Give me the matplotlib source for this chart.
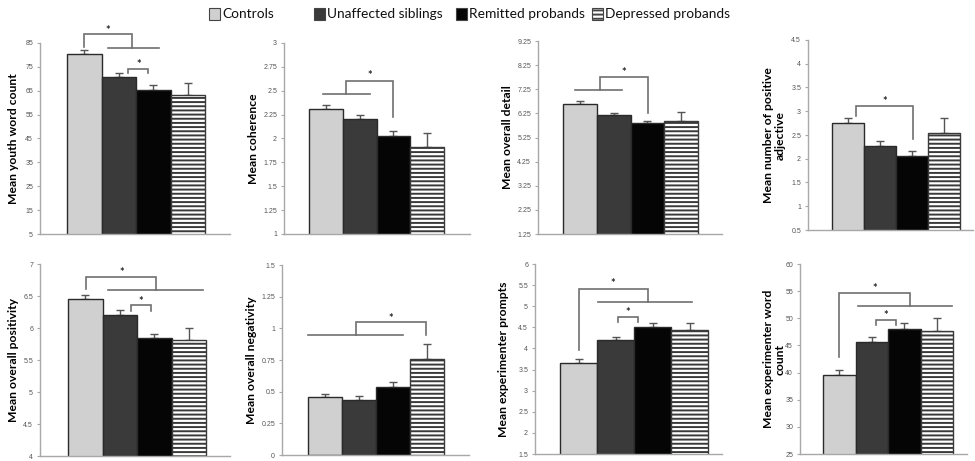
import matplotlib
matplotlib.use("Agg")
import matplotlib.pyplot as plt
from matplotlib.patches import Rectangle
import numpy as np

plt.rcParams['font.family'] = ['Lato', 'DejaVu Sans']
plt.rcParams['hatch.linewidth'] = 1.4

groups = ["Controls", "Unaffected siblings", "Remitted probands", "Depressed probands"]

# ---- data (means and upper error) ----
youth_word = [80.5, 70.6, 65.4, 63.2]
youth_word_err = [1.7, 1.8, 2.0, 4.9]
coherence = [2.308, 2.203, 2.031, 1.906]
coherence_err = [0.045, 0.042, 0.046, 0.15]
detail = [6.636, 6.166, 5.834, 5.93]
detail_err = [0.12, 0.12, 0.11, 0.36]
pos_adj = [2.752, 2.262, 2.066, 2.535]
pos_adj_err = [0.112, 0.112, 0.098, 0.322]
positivity = [6.453, 6.21, 5.842, 5.805]
positivity_err = [0.068, 0.064, 0.063, 0.195]
negativity = [0.456, 0.433, 0.533, 0.76]
negativity_err = [0.027, 0.031, 0.042, 0.116]
prompts = [3.652, 4.203, 4.518, 4.44]
prompts_err = [0.095, 0.079, 0.095, 0.157]
exp_word = [39.47, 45.54, 48.11, 47.75]
exp_word_err = [0.92, 0.98, 1.09, 2.35]

ylabels = ["Mean youth word count", "Mean coherence", "Mean overall detail",
           "Mean number of positive\nadjective", "Mean overall positivity",
           "Mean overall negativity", "Mean experimenter prompts",
           "Mean experimenter word\ncount"]
yticks = [np.arange(5, 86, 10), np.arange(1, 3.01, 0.25), np.arange(1.25, 9.26, 1.0),
          np.arange(0.5, 4.51, 0.5), np.arange(4, 7.01, 0.5), np.arange(0, 1.51, 0.25),
          np.arange(1.5, 6.01, 0.5), np.arange(25, 60.1, 5)]

# significance brackets: (x1, x2, y_left_bottom, y_top, y_right_bottom)
brackets = [
    [(0.0, 1.37, 83.3, 88.6, 82.9), (1.28, 1.86, 72.4, 74.1, 72.4)],
    [(0.59, 2.0, 2.462, 2.598, 2.22)],
    [(0.59, 2.02, 7.217, 7.74, 6.27)],
    [(0.25, 2.02, 2.906, 3.115, 2.416)],
    [(0.03, 2.06, 6.605, 6.8, 6.6), (1.32, 1.91, 6.263, 6.353, 6.263)],
    [(0.9, 2.96, 0.947, 1.05, 0.947)],
    [(0.0, 1.87, 3.967, 5.40, 5.11), (1.08, 1.61, 4.62, 4.74, 4.62)],
    [(0.0, 2.18, 42.84, 54.61, 52.34), (1.12, 1.74, 48.79, 49.7, 48.79)],
]
# horizontal group lines: (x1, x2, y)
glines = [
    [(0.69, 2.18, 82.9)],
    [(-0.1, 1.3, 2.462)],
    [(-0.15, 1.25, 7.217)],
    [],
    [(0.66, 3.4, 6.6)],
    [(-0.5, 2.29, 0.947)],
    [(0.54, 3.07, 5.11)],
    [(0.58, 3.47, 52.34)],
]
# star heights (above bracket tops)
stars = [[90.2, 76.0], [2.655], [7.95], [3.21], [6.87, 6.42], [1.08], [5.55, 4.86], [55.4, 50.6]]

values = [youth_word, coherence, detail, pos_adj, positivity, negativity, prompts, exp_word]
errors = [youth_word_err, coherence_err, detail_err, pos_adj_err, positivity_err,
          negativity_err, prompts_err, exp_word_err]

# ---- layout (pixels) ----
W, H = 975, 461
# (axis_left, axis_right, axis_top, axis_bottom, bar_left, bar_right, label_right_x)
boxes = [
    (40, 230, 43, 234, 67, 205, 19),
    (284, 470, 43, 234, 309, 444, 259),
    (538, 722, 41, 234, 563, 698, 513),
    (808, 973, 40, 230, 832, 960, 786),
    (40, 230, 264, 456, 68, 206, 19),
    (282, 469, 265, 455, 308, 444, 257),
    (535, 722, 264, 454, 560, 708, 509),
    (800, 967, 264, 454, 823, 953, 786),
]

fig = plt.figure(figsize=(W / 100, H / 100), dpi=100)
fc = ['#d0d0d0', '#3a3a3a', '#050505', 'white']
axcol = '#a8a8a8'
brcol = '#707070'

for i in range(8):
    al, ar, at, ab, bl, br, lx = boxes[i]
    ax = fig.add_axes([al / W, 1 - ab / H, (ar - al) / W, (ab - at) / H])
    bw = (br - bl) / 4.0
    xl = -0.5 - (bl - al) / bw
    xr = 3.5 + (ar - br) / bw
    x = np.arange(4)
    v = values[i]
    e = errors[i]
    ax.errorbar(x, v, yerr=[[0] * 4, e], fmt='none', ecolor='#555555',
                elinewidth=1.0, capsize=3, capthick=1.0, zorder=1)
    bars = ax.bar(x, v, width=1.0, color=fc, edgecolor='#2a2a2a', linewidth=1.0, zorder=2)
    bars[3].set_hatch('----')
    bars[3].set_edgecolor('#3a3a3a')
    ax.set_xlim(xl, xr)
    yt = yticks[i]
    ax.set_ylim(yt[0], yt[-1])
    ax.set_yticks(yt)
    ax.set_yticklabels([('%g' % t) for t in yt], fontfamily='Liberation Sans')
    ax.set_xticks([])
    for s in ['top', 'right']:
        ax.spines[s].set_visible(False)
    for s in ['left', 'bottom']:
        ax.spines[s].set_color(axcol)
        ax.spines[s].set_linewidth(1.0)
    ax.tick_params(axis='y', labelsize=5, labelcolor='#555555', color=axcol,
                   length=2, width=0.8, pad=3)
    ax.set_ylabel(ylabels[i], fontsize=8.7, fontweight='bold', color='black',
                  linespacing=1.15)
    ax.yaxis.set_label_coords((lx - al) / (ar - al), 0.5)
    for (x1, x2, y1, yt_, y2), sy in zip(brackets[i], stars[i]):
        ax.plot([x1, x1, x2, x2], [y1, yt_, yt_, y2], color=brcol, lw=1.2,
                clip_on=False, zorder=3, solid_joinstyle='miter')
        ax.text((x1 + x2) / 2, sy, '*', ha='center', va='center', fontsize=8,
                fontweight='bold', color='#222222', clip_on=False)
    for (x1, x2, y) in glines[i]:
        ax.plot([x1, x2], [y, y], color=brcol, lw=1.2, clip_on=False, zorder=3)

# ---- legend (manual placement, pixels) ----
leg_sq = [209, 314, 456, 592]
leg_tx = [222, 327, 469, 605]
yc = 14
for j in range(4):
    r = Rectangle((leg_sq[j] / W, 1 - (yc + 6) / H), 11 / W, 12 / H,
                  transform=fig.transFigure, facecolor=fc[j], edgecolor='#444444',
                  linewidth=0.8, hatch='----' if j == 3 else None)
    fig.add_artist(r)
    fig.text(leg_tx[j] / W, 1 - yc / H, groups[j], fontsize=9.9, ha='left',
             va='center', color='#111111')

fig.savefig('out.png', dpi=100)
